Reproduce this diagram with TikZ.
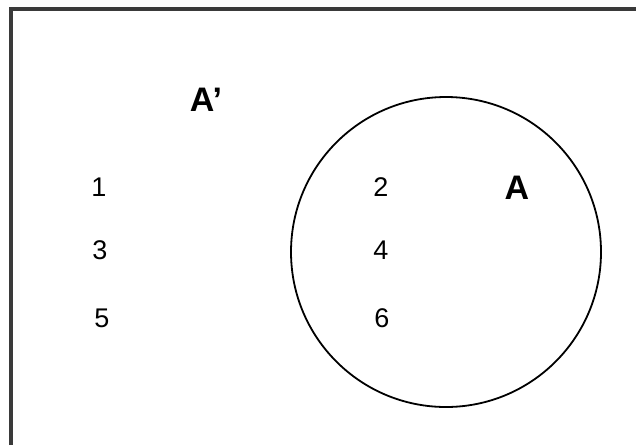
\documentclass[tikz,border=0pt]{standalone}
\usepackage{fontspec}
\setmainfont{Liberation Sans}
\usepackage{tikz}
\definecolor{cerceveGri}{HTML}{3A3A3A}
\tikzset{
  harf/.style={font=\bfseries\fontsize{34}{34}\selectfont},
  sayi/.style={font=\fontsize{27}{27}\selectfont}
}

\begin{document}
\begin{tikzpicture}[x=1pt,y=-1pt]
\useasboundingbox (0,0) rectangle (636,445);
\draw[cerceveGri,line width=3.2pt] (11,445)--(11,9)--(636,9);
\draw[black,line width=1.8pt] (446,252) circle (155);
\node[harf] (tumleyen) at (206,100) {A'};
\node[harf] (kumeA) at (517,188) {A};
\node[sayi] (n1) at (99,187) {1};
\node[sayi] (n3) at (100,250) {3};
\node[sayi] (n5) at (102,318) {5};
\node[sayi] (n2) at (381,187) {2};
\node[sayi] (n4) at (381,250) {4};
\node[sayi] (n6) at (382,318) {6};
\end{tikzpicture}
\end{document}
